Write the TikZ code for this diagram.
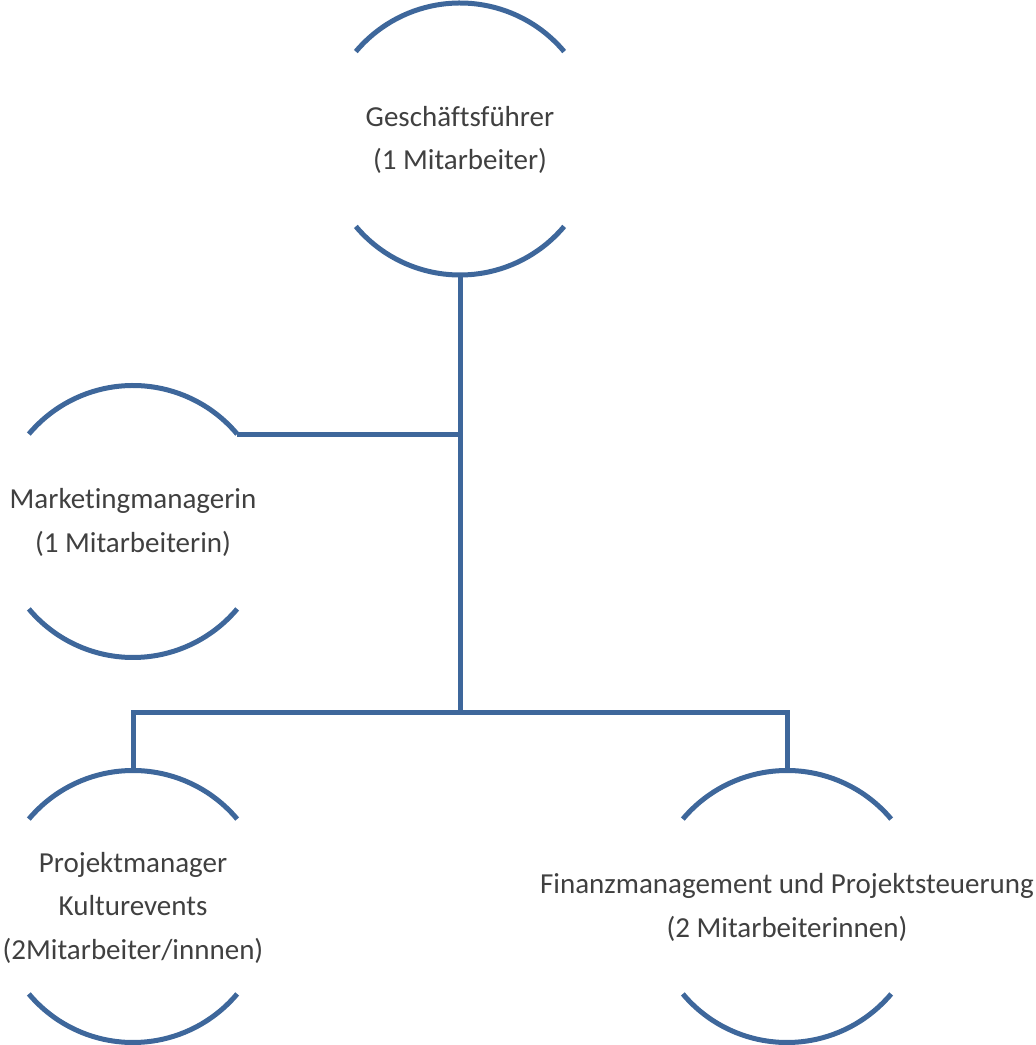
\documentclass[tikz,border=0pt]{standalone}
\usepackage{fontspec}
\setmainfont{Carlito}[Ligatures={NoCommon}]
\definecolor{orgblue}{RGB}{62,103,155}
\definecolor{orgtext}{RGB}{64,64,64}
\newcommand\orgunit[4]{%
  \coordinate (#1) at (#2,#3);
  \node[unittext] (#1-t) at ([yshift=-1pt]#1) {#4};
  \draw[unitline] ([shift={(40:136pt)}]#1) arc[start angle=40,end angle=140,radius=136pt];
  \draw[unitline] ([shift={(220:136pt)}]#1) arc[start angle=220,end angle=320,radius=136pt];
  \coordinate (#1-n) at ([yshift=136pt]#1);
  \coordinate (#1-s) at ([yshift=-136pt]#1);
  \coordinate (#1-ne) at ([shift={(40:136pt)}]#1);
}
\tikzset{
  unitline/.style={draw=orgblue, line width=5pt},
  unittext/.style={align=center, inner sep=0pt, text=orgtext,
    font=\fontsize{29}{43.5}\selectfont},
  connector/.style={draw=orgblue, line width=5pt, line join=miter},
}
\begin{document}
\begin{tikzpicture}[x=1pt,y=1pt]
\useasboundingbox (0,0) rectangle (1036,1045);
\orgunit{gf}{460}{906}{Geschäftsführer\\(1 Mitarbeiter)}
\orgunit{mk}{133}{523.5}{Marketingmanagerin\\(1 Mitarbeiterin)}
\orgunit{pm}{133}{138.5}{Projektmanager\\Kulturevents\\(2Mitarbeiter/innnen)}
\orgunit{fm}{787}{138.5}{Finanzmanagement und Projektsteuerung\\(2 Mitarbeiterinnen)}
\coordinate (j1) at (mk-ne -| gf);
\coordinate (j2) at (460,332);
\draw[connector] (gf-s) -- (j2);
\draw[connector] (mk-ne) -- (j1);
\draw[connector] (pm-n) |- (j2);
\draw[connector] (fm-n) |- (j2);
\end{tikzpicture}
\end{document}
